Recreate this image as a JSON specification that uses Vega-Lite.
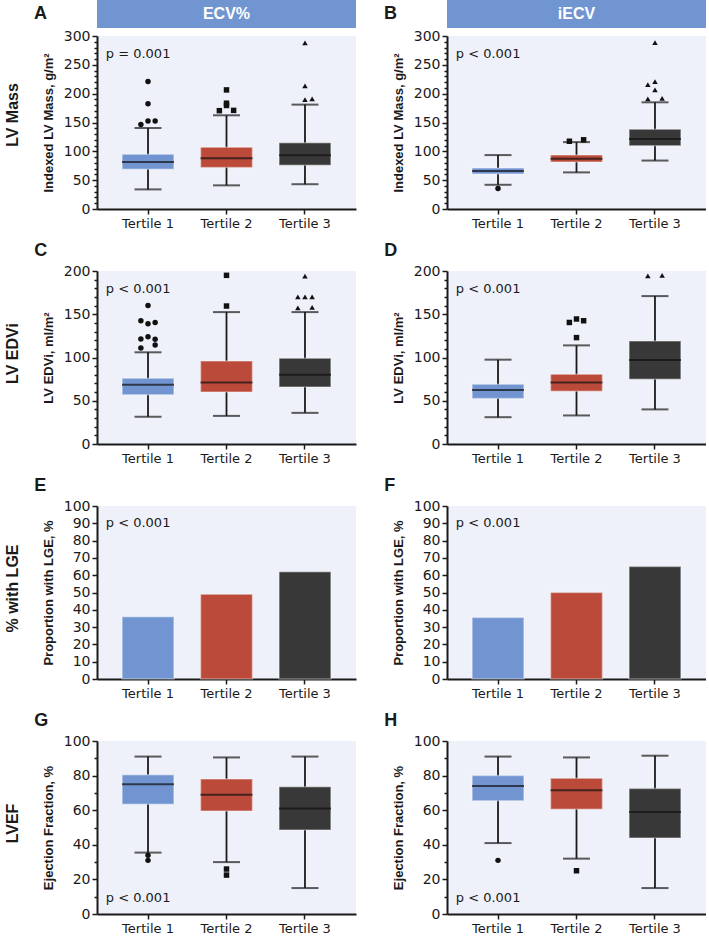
{
"$schema": "https://vega.github.io/schema/vega-lite/v6.json",
"padding": {"left": 5, "top": 0, "right": 0, "bottom": 0},
"background": "white",
"config": {
  "view": {"fill": "#eef1f9", "stroke": null},
  "legend": {"disable": true},
  "axis": {"domainColor": "#1a1a1a", "domainWidth": 2, "tickColor": "#1a1a1a", "tickWidth": 1.5, "labelFont": "DejaVu Sans", "labelFontSize": 13, "labelColor": "#1a1a1a", "titleFont": "Liberation Sans", "titleFontSize": 13, "titleFontWeight": "bold", "titleColor": "#1a1a1a", "grid": false},
  "axisX": {"tickSize": 5, "labelPadding": 3, "labelAngle": 0},
  "axisY": {"labelPadding": 2, "titlePadding": 8, "labelFontSize": 14, "labelOverlap": false, "tickCount": 100},
  "title": {"anchor": "start", "fontSize": 18, "fontWeight": "bold", "font": "Liberation Sans", "color": "#1a1a1a", "offset": 0, "baseline": "bottom", "dx": -8},
  "text": {"font": "DejaVu Sans", "fontSize": 13, "color": "#1a1a1a"}
},
"datasets": {
  "boxes": [
    {"p":"A","t":"Tertile 1","lo":34,"q1":69,"med":81.5,"q3":95,"hi":140.5},
    {"p":"A","t":"Tertile 2","lo":41,"q1":72,"med":88,"q3":107,"hi":162.5},
    {"p":"A","t":"Tertile 3","lo":43,"q1":76,"med":93,"q3":115,"hi":181},
    {"p":"B","t":"Tertile 1","lo":42,"q1":60.5,"med":66,"q3":71,"hi":93.5},
    {"p":"B","t":"Tertile 2","lo":63.5,"q1":81.5,"med":87,"q3":93.5,"hi":116},
    {"p":"B","t":"Tertile 3","lo":84,"q1":109.5,"med":121.5,"q3":138.5,"hi":185},
    {"p":"C","t":"Tertile 1","lo":31.5,"q1":57,"med":68.5,"q3":76,"hi":106},
    {"p":"C","t":"Tertile 2","lo":32.5,"q1":60,"med":71,"q3":96,"hi":152.5},
    {"p":"C","t":"Tertile 3","lo":36,"q1":66,"med":80,"q3":99,"hi":152.5},
    {"p":"D","t":"Tertile 1","lo":31,"q1":52.5,"med":62.5,"q3":69,"hi":97.5},
    {"p":"D","t":"Tertile 2","lo":33,"q1":61,"med":71,"q3":80.5,"hi":114},
    {"p":"D","t":"Tertile 3","lo":40,"q1":75,"med":97,"q3":119,"hi":171},
    {"p":"G","t":"Tertile 1","lo":35.5,"q1":63.5,"med":75,"q3":80.5,"hi":91},
    {"p":"G","t":"Tertile 2","lo":30,"q1":59.5,"med":69,"q3":78,"hi":90.5},
    {"p":"G","t":"Tertile 3","lo":15,"q1":48.5,"med":61,"q3":73.5,"hi":91},
    {"p":"H","t":"Tertile 1","lo":41,"q1":65.5,"med":74,"q3":80,"hi":91},
    {"p":"H","t":"Tertile 2","lo":32,"q1":60.5,"med":71.5,"q3":78.5,"hi":90.5},
    {"p":"H","t":"Tertile 3","lo":15,"q1":44,"med":59,"q3":72.5,"hi":91.5}
  ],
  "outliers": [
    {"p":"A","t":"Tertile 1","v":221,"s":0},{"p":"A","t":"Tertile 1","v":182.5,"s":0},{"p":"A","t":"Tertile 1","v":152.5,"s":0},{"p":"A","t":"Tertile 1","v":152.5,"s":1},{"p":"A","t":"Tertile 1","v":146.5,"s":-1},
    {"p":"A","t":"Tertile 2","v":206.5,"s":0},{"p":"A","t":"Tertile 2","v":183.5,"s":0},{"p":"A","t":"Tertile 2","v":179.5,"s":0},{"p":"A","t":"Tertile 2","v":170.5,"s":-1},{"p":"A","t":"Tertile 2","v":171,"s":1},
    {"p":"A","t":"Tertile 3","v":288,"s":0},{"p":"A","t":"Tertile 3","v":213.5,"s":0},{"p":"A","t":"Tertile 3","v":189.5,"s":0},{"p":"A","t":"Tertile 3","v":191,"s":1},
    {"p":"B","t":"Tertile 1","v":35.5,"s":0},
    {"p":"B","t":"Tertile 2","v":117.5,"s":-1},{"p":"B","t":"Tertile 2","v":120,"s":1},
    {"p":"B","t":"Tertile 3","v":288.5,"s":0},{"p":"B","t":"Tertile 3","v":221,"s":0},{"p":"B","t":"Tertile 3","v":215.5,"s":-1},{"p":"B","t":"Tertile 3","v":206.5,"s":0},{"p":"B","t":"Tertile 3","v":191,"s":-1},{"p":"B","t":"Tertile 3","v":192,"s":1},
    {"p":"C","t":"Tertile 1","v":160,"s":0},{"p":"C","t":"Tertile 1","v":142.5,"s":-1},{"p":"C","t":"Tertile 1","v":139,"s":0},{"p":"C","t":"Tertile 1","v":140.5,"s":1},{"p":"C","t":"Tertile 1","v":121.5,"s":-1},{"p":"C","t":"Tertile 1","v":124,"s":0},{"p":"C","t":"Tertile 1","v":121,"s":1},{"p":"C","t":"Tertile 1","v":111,"s":-1},{"p":"C","t":"Tertile 1","v":114.5,"s":1},
    {"p":"C","t":"Tertile 2","v":195,"s":0},{"p":"C","t":"Tertile 2","v":159.5,"s":0},
    {"p":"C","t":"Tertile 3","v":194,"s":0},{"p":"C","t":"Tertile 3","v":170,"s":-1},{"p":"C","t":"Tertile 3","v":170,"s":0},{"p":"C","t":"Tertile 3","v":170,"s":1},{"p":"C","t":"Tertile 3","v":157.5,"s":-1},{"p":"C","t":"Tertile 3","v":158,"s":1},
    {"p":"D","t":"Tertile 2","v":144.5,"s":0},{"p":"D","t":"Tertile 2","v":142.5,"s":1},{"p":"D","t":"Tertile 2","v":140.5,"s":-1},{"p":"D","t":"Tertile 2","v":123,"s":0},
    {"p":"D","t":"Tertile 3","v":194.5,"s":-1},{"p":"D","t":"Tertile 3","v":195,"s":1},
    {"p":"G","t":"Tertile 1","v":34,"s":0},{"p":"G","t":"Tertile 1","v":31,"s":0},
    {"p":"G","t":"Tertile 2","v":26,"s":0},{"p":"G","t":"Tertile 2","v":22.5,"s":0},
    {"p":"H","t":"Tertile 1","v":31,"s":0},
    {"p":"H","t":"Tertile 2","v":25,"s":0}
  ],
  "lge": [
    {"p":"E","t":"Tertile 1","pct":36},{"p":"E","t":"Tertile 2","pct":49},{"p":"E","t":"Tertile 3","pct":62},
    {"p":"F","t":"Tertile 1","pct":35.5},{"p":"F","t":"Tertile 2","pct":50},{"p":"F","t":"Tertile 3","pct":65}
  ]
},
"vconcat": [
  {"hconcat": [
    {"vconcat": [
      {"width": 259, "height": 28, "title": {"text": "A", "orient": "left", "angle": 0, "anchor": "middle", "baseline": "middle", "align": "right", "offset": 37, "dx": 0},
       "data": {"values": [{"h": "ECV%"}]},
       "layer": [
        {"mark": {"type": "rect", "color": "#7195d1"}, "encoding": {"x": {"datum": 0, "type": "quantitative", "scale": {"domain": [0, 1]}, "axis": null}, "x2": {"datum": 1}, "y": {"datum": 0, "type": "quantitative", "scale": {"domain": [0, 1]}, "axis": null}, "y2": {"datum": 1}}},
        {"mark": {"type": "text", "color": "white", "fontSize": 16, "fontWeight": "bold", "font": "Liberation Sans", "align": "center", "baseline": "middle"}, "encoding": {"x": {"datum": 0.5, "type": "quantitative"}, "y": {"datum": 0.5, "type": "quantitative"}, "text": {"field": "h"}}}
       ]},
      {"width": 259, "height": 173,
       "encoding": {"x": {"field": "t", "type": "nominal", "title": null, "scale": {"domain": ["Tertile 1","Tertile 2","Tertile 3"], "paddingInner": 0, "paddingOuter": 0.15}}},
       "resolve": {"scale": {"xOffset": "independent"}},
       "layer": [
        {"data": {"name": "boxes"}, "transform": [{"filter": "datum.p === 'A'"}], "layer": [
          {"mark": {"type": "rule", "color": "#1a1a1a", "strokeWidth": 1.8}, "encoding": {"y": {"field": "lo", "type": "quantitative", "scale": {"domain": [0, 300], "nice": false}, "axis": {"title": "Indexed LV Mass, g/m²", "labelOverlap": false, "tickCount": 100, "values": [0,10,20,30,40,50,60,70,80,90,100,110,120,130,140,150,160,170,180,190,200,210,220,230,240,250,260,270,280,290,300], "labelExpr": "datum.value % 50 === 0 ? datum.label : ''", "tickSize": {"condition": {"test": "datum.value % 50 === 0", "value": 5}, "value": 3}}}, "y2": {"field": "hi"}}},
          {"mark": {"type": "tick", "color": "#1a1a1a", "size": 27, "thickness": 2}, "encoding": {"y": {"field": "lo", "type": "quantitative"}}},
          {"mark": {"type": "tick", "color": "#1a1a1a", "size": 27, "thickness": 2}, "encoding": {"y": {"field": "hi", "type": "quantitative"}}},
          {"mark": {"type": "bar", "width": {"band": 0.66}, "stroke": "white", "strokeOpacity": 0.35, "strokeWidth": 1.5}, "encoding": {"y": {"field": "q1", "type": "quantitative"}, "y2": {"field": "q3"}, "color": {"field": "t", "type": "nominal", "scale": {"domain": ["Tertile 1","Tertile 2","Tertile 3"], "range": ["#7295d2","#bc4a3b","#383838"]}}}},
          {"mark": {"type": "tick", "color": "#111111", "size": 52, "thickness": 2}, "encoding": {"y": {"field": "med", "type": "quantitative"}}}
        ]},
        {"data": {"name": "outliers"}, "transform": [{"filter": "datum.p === 'A'"}], "mark": {"type": "point", "filled": true, "color": "#111111", "size": 30, "opacity": 1}, "encoding": {"y": {"field": "v", "type": "quantitative"}, "xOffset": {"field": "s", "type": "quantitative", "scale": {"domain": [-5.5, 5.5]}}, "shape": {"field": "t", "type": "nominal", "scale": {"domain": ["Tertile 1","Tertile 2","Tertile 3"], "range": ["circle","square","triangle-up"]}}}},
        {"data": {"values": [{}]}, "mark": {"type": "text", "text": "p = 0.001", "align": "left", "baseline": "middle", "dx": -3}, "encoding": {"x": {"datum": "Tertile 1", "type": "nominal", "bandPosition": 0}, "y": {"datum": 269, "type": "quantitative"}}}
       ]}
    ], "spacing": 1},
    {"vconcat": [
      {"width": 259, "height": 28, "title": {"text": "B", "orient": "left", "angle": 0, "anchor": "middle", "baseline": "middle", "align": "right", "offset": 37, "dx": 0},
       "data": {"values": [{"h": "iECV"}]},
       "layer": [
        {"mark": {"type": "rect", "color": "#7195d1"}, "encoding": {"x": {"datum": 0, "type": "quantitative", "scale": {"domain": [0, 1]}, "axis": null}, "x2": {"datum": 1}, "y": {"datum": 0, "type": "quantitative", "scale": {"domain": [0, 1]}, "axis": null}, "y2": {"datum": 1}}},
        {"mark": {"type": "text", "color": "white", "fontSize": 16, "fontWeight": "bold", "font": "Liberation Sans", "align": "center", "baseline": "middle"}, "encoding": {"x": {"datum": 0.5, "type": "quantitative"}, "y": {"datum": 0.5, "type": "quantitative"}, "text": {"field": "h"}}}
       ]},
      {"width": 259, "height": 173,
       "encoding": {"x": {"field": "t", "type": "nominal", "title": null, "scale": {"domain": ["Tertile 1","Tertile 2","Tertile 3"], "paddingInner": 0, "paddingOuter": 0.15}}},
       "resolve": {"scale": {"xOffset": "independent"}},
       "layer": [
        {"data": {"name": "boxes"}, "transform": [{"filter": "datum.p === 'B'"}], "layer": [
          {"mark": {"type": "rule", "color": "#1a1a1a", "strokeWidth": 1.8}, "encoding": {"y": {"field": "lo", "type": "quantitative", "scale": {"domain": [0, 300], "nice": false}, "axis": {"title": "Indexed LV Mass, g/m²", "labelOverlap": false, "tickCount": 100, "values": [0,10,20,30,40,50,60,70,80,90,100,110,120,130,140,150,160,170,180,190,200,210,220,230,240,250,260,270,280,290,300], "labelExpr": "datum.value % 50 === 0 ? datum.label : ''", "tickSize": {"condition": {"test": "datum.value % 50 === 0", "value": 5}, "value": 3}}}, "y2": {"field": "hi"}}},
          {"mark": {"type": "tick", "color": "#1a1a1a", "size": 27, "thickness": 2}, "encoding": {"y": {"field": "lo", "type": "quantitative"}}},
          {"mark": {"type": "tick", "color": "#1a1a1a", "size": 27, "thickness": 2}, "encoding": {"y": {"field": "hi", "type": "quantitative"}}},
          {"mark": {"type": "bar", "width": {"band": 0.66}, "stroke": "white", "strokeOpacity": 0.35, "strokeWidth": 1.5}, "encoding": {"y": {"field": "q1", "type": "quantitative"}, "y2": {"field": "q3"}, "color": {"field": "t", "type": "nominal", "scale": {"domain": ["Tertile 1","Tertile 2","Tertile 3"], "range": ["#7295d2","#bc4a3b","#383838"]}}}},
          {"mark": {"type": "tick", "color": "#111111", "size": 52, "thickness": 2}, "encoding": {"y": {"field": "med", "type": "quantitative"}}}
        ]},
        {"data": {"name": "outliers"}, "transform": [{"filter": "datum.p === 'B'"}], "mark": {"type": "point", "filled": true, "color": "#111111", "size": 30, "opacity": 1}, "encoding": {"y": {"field": "v", "type": "quantitative"}, "xOffset": {"field": "s", "type": "quantitative", "scale": {"domain": [-5.5, 5.5]}}, "shape": {"field": "t", "type": "nominal", "scale": {"domain": ["Tertile 1","Tertile 2","Tertile 3"], "range": ["circle","square","triangle-up"]}}}},
        {"data": {"values": [{}]}, "mark": {"type": "text", "text": "p < 0.001", "align": "left", "baseline": "middle", "dx": -3}, "encoding": {"x": {"datum": "Tertile 1", "type": "nominal", "bandPosition": 0}, "y": {"datum": 269, "type": "quantitative"}}}
       ]}
    ], "spacing": 1}
  ], "spacing": 28, "title": {"text": "LV Mass", "orient": "left", "anchor": "middle", "fontSize": 16, "offset": 13, "dx": 0}},
  {"hconcat": [
      {"width": 259, "height": 173, "title": {"text": "C"},
       "encoding": {"x": {"field": "t", "type": "nominal", "title": null, "scale": {"domain": ["Tertile 1","Tertile 2","Tertile 3"], "paddingInner": 0, "paddingOuter": 0.15}}},
       "resolve": {"scale": {"xOffset": "independent"}},
       "layer": [
        {"data": {"name": "boxes"}, "transform": [{"filter": "datum.p === 'C'"}], "layer": [
          {"mark": {"type": "rule", "color": "#1a1a1a", "strokeWidth": 1.8}, "encoding": {"y": {"field": "lo", "type": "quantitative", "scale": {"domain": [0, 200], "nice": false}, "axis": {"title": "LV EDVi, ml/m²", "labelOverlap": false, "tickCount": 100, "values": [0,10,20,30,40,50,60,70,80,90,100,110,120,130,140,150,160,170,180,190,200], "labelExpr": "datum.value % 50 === 0 ? datum.label : ''", "tickSize": {"condition": {"test": "datum.value % 50 === 0", "value": 5}, "value": 3}}}, "y2": {"field": "hi"}}},
          {"mark": {"type": "tick", "color": "#1a1a1a", "size": 27, "thickness": 2}, "encoding": {"y": {"field": "lo", "type": "quantitative"}}},
          {"mark": {"type": "tick", "color": "#1a1a1a", "size": 27, "thickness": 2}, "encoding": {"y": {"field": "hi", "type": "quantitative"}}},
          {"mark": {"type": "bar", "width": {"band": 0.66}, "stroke": "white", "strokeOpacity": 0.35, "strokeWidth": 1.5}, "encoding": {"y": {"field": "q1", "type": "quantitative"}, "y2": {"field": "q3"}, "color": {"field": "t", "type": "nominal", "scale": {"domain": ["Tertile 1","Tertile 2","Tertile 3"], "range": ["#7295d2","#bc4a3b","#383838"]}}}},
          {"mark": {"type": "tick", "color": "#111111", "size": 52, "thickness": 2}, "encoding": {"y": {"field": "med", "type": "quantitative"}}}
        ]},
        {"data": {"name": "outliers"}, "transform": [{"filter": "datum.p === 'C'"}], "mark": {"type": "point", "filled": true, "color": "#111111", "size": 30, "opacity": 1}, "encoding": {"y": {"field": "v", "type": "quantitative"}, "xOffset": {"field": "s", "type": "quantitative", "scale": {"domain": [-5.5, 5.5]}}, "shape": {"field": "t", "type": "nominal", "scale": {"domain": ["Tertile 1","Tertile 2","Tertile 3"], "range": ["circle","square","triangle-up"]}}}},
        {"data": {"values": [{}]}, "mark": {"type": "text", "text": "p < 0.001", "align": "left", "baseline": "middle", "dx": -3}, "encoding": {"x": {"datum": "Tertile 1", "type": "nominal", "bandPosition": 0}, "y": {"datum": 179, "type": "quantitative"}}}
       ]},
      {"width": 259, "height": 173, "title": {"text": "D"},
       "encoding": {"x": {"field": "t", "type": "nominal", "title": null, "scale": {"domain": ["Tertile 1","Tertile 2","Tertile 3"], "paddingInner": 0, "paddingOuter": 0.15}}},
       "resolve": {"scale": {"xOffset": "independent"}},
       "layer": [
        {"data": {"name": "boxes"}, "transform": [{"filter": "datum.p === 'D'"}], "layer": [
          {"mark": {"type": "rule", "color": "#1a1a1a", "strokeWidth": 1.8}, "encoding": {"y": {"field": "lo", "type": "quantitative", "scale": {"domain": [0, 200], "nice": false}, "axis": {"title": "LV EDVi, ml/m²", "labelOverlap": false, "tickCount": 100, "values": [0,10,20,30,40,50,60,70,80,90,100,110,120,130,140,150,160,170,180,190,200], "labelExpr": "datum.value % 50 === 0 ? datum.label : ''", "tickSize": {"condition": {"test": "datum.value % 50 === 0", "value": 5}, "value": 3}}}, "y2": {"field": "hi"}}},
          {"mark": {"type": "tick", "color": "#1a1a1a", "size": 27, "thickness": 2}, "encoding": {"y": {"field": "lo", "type": "quantitative"}}},
          {"mark": {"type": "tick", "color": "#1a1a1a", "size": 27, "thickness": 2}, "encoding": {"y": {"field": "hi", "type": "quantitative"}}},
          {"mark": {"type": "bar", "width": {"band": 0.66}, "stroke": "white", "strokeOpacity": 0.35, "strokeWidth": 1.5}, "encoding": {"y": {"field": "q1", "type": "quantitative"}, "y2": {"field": "q3"}, "color": {"field": "t", "type": "nominal", "scale": {"domain": ["Tertile 1","Tertile 2","Tertile 3"], "range": ["#7295d2","#bc4a3b","#383838"]}}}},
          {"mark": {"type": "tick", "color": "#111111", "size": 52, "thickness": 2}, "encoding": {"y": {"field": "med", "type": "quantitative"}}}
        ]},
        {"data": {"name": "outliers"}, "transform": [{"filter": "datum.p === 'D'"}], "mark": {"type": "point", "filled": true, "color": "#111111", "size": 30, "opacity": 1}, "encoding": {"y": {"field": "v", "type": "quantitative"}, "xOffset": {"field": "s", "type": "quantitative", "scale": {"domain": [-5.5, 5.5]}}, "shape": {"field": "t", "type": "nominal", "scale": {"domain": ["Tertile 1","Tertile 2","Tertile 3"], "range": ["circle","square","triangle-up"]}}}},
        {"data": {"values": [{}]}, "mark": {"type": "text", "text": "p < 0.001", "align": "left", "baseline": "middle", "dx": -3}, "encoding": {"x": {"datum": "Tertile 1", "type": "nominal", "bandPosition": 0}, "y": {"datum": 179, "type": "quantitative"}}}
       ]}
  ], "spacing": 28, "title": {"text": "LV EDVi", "orient": "left", "anchor": "middle", "fontSize": 16, "offset": 13, "dx": 0}},
  {"hconcat": [
      {"width": 259, "height": 173, "title": {"text": "E"}, "data": {"name": "lge"},
       "encoding": {"x": {"field": "t", "type": "nominal", "title": null, "scale": {"domain": ["Tertile 1","Tertile 2","Tertile 3"], "paddingInner": 0, "paddingOuter": 0.15}}},
       "layer": [
        {"transform": [{"filter": "datum.p === 'E'"}], "mark": {"type": "bar", "width": {"band": 0.66}, "stroke": "white", "strokeOpacity": 0.35, "strokeWidth": 1.5}, "encoding": {"y": {"field": "pct", "type": "quantitative", "scale": {"domain": [0, 100], "nice": false}, "axis": {"title": "Proportion with LGE, %", "labelOverlap": false, "tickCount": 100, "values": [0,10,20,30,40,50,60,70,80,90,100], "tickSize": 5}}, "color": {"field": "t", "type": "nominal", "scale": {"domain": ["Tertile 1","Tertile 2","Tertile 3"], "range": ["#7295d2","#bc4a3b","#383838"]}}}},
        {"data": {"values": [{}]}, "mark": {"type": "text", "text": "p < 0.001", "align": "left", "baseline": "middle", "dx": -3}, "encoding": {"x": {"datum": "Tertile 1", "type": "nominal", "bandPosition": 0}, "y": {"datum": 90, "type": "quantitative"}}}
       ]},
      {"width": 259, "height": 173, "title": {"text": "F"}, "data": {"name": "lge"},
       "encoding": {"x": {"field": "t", "type": "nominal", "title": null, "scale": {"domain": ["Tertile 1","Tertile 2","Tertile 3"], "paddingInner": 0, "paddingOuter": 0.15}}},
       "layer": [
        {"transform": [{"filter": "datum.p === 'F'"}], "mark": {"type": "bar", "width": {"band": 0.66}, "stroke": "white", "strokeOpacity": 0.35, "strokeWidth": 1.5}, "encoding": {"y": {"field": "pct", "type": "quantitative", "scale": {"domain": [0, 100], "nice": false}, "axis": {"title": "Proportion with LGE, %", "labelOverlap": false, "tickCount": 100, "values": [0,10,20,30,40,50,60,70,80,90,100], "tickSize": 5}}, "color": {"field": "t", "type": "nominal", "scale": {"domain": ["Tertile 1","Tertile 2","Tertile 3"], "range": ["#7295d2","#bc4a3b","#383838"]}}}},
        {"data": {"values": [{}]}, "mark": {"type": "text", "text": "p < 0.001", "align": "left", "baseline": "middle", "dx": -3}, "encoding": {"x": {"datum": "Tertile 1", "type": "nominal", "bandPosition": 0}, "y": {"datum": 90, "type": "quantitative"}}}
       ]}
  ], "spacing": 28, "title": {"text": "% with LGE", "orient": "left", "anchor": "middle", "fontSize": 16, "offset": 13, "dx": 0}},
  {"hconcat": [
      {"width": 259, "height": 173, "title": {"text": "G"},
       "encoding": {"x": {"field": "t", "type": "nominal", "title": null, "scale": {"domain": ["Tertile 1","Tertile 2","Tertile 3"], "paddingInner": 0, "paddingOuter": 0.15}}},
       "resolve": {"scale": {"xOffset": "independent"}},
       "layer": [
        {"data": {"name": "boxes"}, "transform": [{"filter": "datum.p === 'G'"}], "layer": [
          {"mark": {"type": "rule", "color": "#1a1a1a", "strokeWidth": 1.8}, "encoding": {"y": {"field": "lo", "type": "quantitative", "scale": {"domain": [0, 100], "nice": false}, "axis": {"title": "Ejection Fraction, %", "labelOverlap": false, "tickCount": 100, "values": [0,10,20,30,40,50,60,70,80,90,100], "labelExpr": "datum.value % 20 === 0 ? datum.label : ''", "tickSize": {"condition": {"test": "datum.value % 20 === 0", "value": 5}, "value": 3}}}, "y2": {"field": "hi"}}},
          {"mark": {"type": "tick", "color": "#1a1a1a", "size": 27, "thickness": 2}, "encoding": {"y": {"field": "lo", "type": "quantitative"}}},
          {"mark": {"type": "tick", "color": "#1a1a1a", "size": 27, "thickness": 2}, "encoding": {"y": {"field": "hi", "type": "quantitative"}}},
          {"mark": {"type": "bar", "width": {"band": 0.66}, "stroke": "white", "strokeOpacity": 0.35, "strokeWidth": 1.5}, "encoding": {"y": {"field": "q1", "type": "quantitative"}, "y2": {"field": "q3"}, "color": {"field": "t", "type": "nominal", "scale": {"domain": ["Tertile 1","Tertile 2","Tertile 3"], "range": ["#7295d2","#bc4a3b","#383838"]}}}},
          {"mark": {"type": "tick", "color": "#111111", "size": 52, "thickness": 2}, "encoding": {"y": {"field": "med", "type": "quantitative"}}}
        ]},
        {"data": {"name": "outliers"}, "transform": [{"filter": "datum.p === 'G'"}], "mark": {"type": "point", "filled": true, "color": "#111111", "size": 30, "opacity": 1}, "encoding": {"y": {"field": "v", "type": "quantitative"}, "xOffset": {"field": "s", "type": "quantitative", "scale": {"domain": [-5.5, 5.5]}}, "shape": {"field": "t", "type": "nominal", "scale": {"domain": ["Tertile 1","Tertile 2","Tertile 3"], "range": ["circle","square","triangle-up"]}}}},
        {"data": {"values": [{}]}, "mark": {"type": "text", "text": "p < 0.001", "align": "left", "baseline": "middle", "dx": -3}, "encoding": {"x": {"datum": "Tertile 1", "type": "nominal", "bandPosition": 0}, "y": {"datum": 9.5, "type": "quantitative"}}}
       ]},
      {"width": 259, "height": 173, "title": {"text": "H"},
       "encoding": {"x": {"field": "t", "type": "nominal", "title": null, "scale": {"domain": ["Tertile 1","Tertile 2","Tertile 3"], "paddingInner": 0, "paddingOuter": 0.15}}},
       "resolve": {"scale": {"xOffset": "independent"}},
       "layer": [
        {"data": {"name": "boxes"}, "transform": [{"filter": "datum.p === 'H'"}], "layer": [
          {"mark": {"type": "rule", "color": "#1a1a1a", "strokeWidth": 1.8}, "encoding": {"y": {"field": "lo", "type": "quantitative", "scale": {"domain": [0, 100], "nice": false}, "axis": {"title": "Ejection Fraction, %", "labelOverlap": false, "tickCount": 100, "values": [0,10,20,30,40,50,60,70,80,90,100], "labelExpr": "datum.value % 20 === 0 ? datum.label : ''", "tickSize": {"condition": {"test": "datum.value % 20 === 0", "value": 5}, "value": 3}}}, "y2": {"field": "hi"}}},
          {"mark": {"type": "tick", "color": "#1a1a1a", "size": 27, "thickness": 2}, "encoding": {"y": {"field": "lo", "type": "quantitative"}}},
          {"mark": {"type": "tick", "color": "#1a1a1a", "size": 27, "thickness": 2}, "encoding": {"y": {"field": "hi", "type": "quantitative"}}},
          {"mark": {"type": "bar", "width": {"band": 0.66}, "stroke": "white", "strokeOpacity": 0.35, "strokeWidth": 1.5}, "encoding": {"y": {"field": "q1", "type": "quantitative"}, "y2": {"field": "q3"}, "color": {"field": "t", "type": "nominal", "scale": {"domain": ["Tertile 1","Tertile 2","Tertile 3"], "range": ["#7295d2","#bc4a3b","#383838"]}}}},
          {"mark": {"type": "tick", "color": "#111111", "size": 52, "thickness": 2}, "encoding": {"y": {"field": "med", "type": "quantitative"}}}
        ]},
        {"data": {"name": "outliers"}, "transform": [{"filter": "datum.p === 'H'"}], "mark": {"type": "point", "filled": true, "color": "#111111", "size": 30, "opacity": 1}, "encoding": {"y": {"field": "v", "type": "quantitative"}, "xOffset": {"field": "s", "type": "quantitative", "scale": {"domain": [-5.5, 5.5]}}, "shape": {"field": "t", "type": "nominal", "scale": {"domain": ["Tertile 1","Tertile 2","Tertile 3"], "range": ["circle","square","triangle-up"]}}}},
        {"data": {"values": [{}]}, "mark": {"type": "text", "text": "p < 0.001", "align": "left", "baseline": "middle", "dx": -3}, "encoding": {"x": {"datum": "Tertile 1", "type": "nominal", "bandPosition": 0}, "y": {"datum": 9.5, "type": "quantitative"}}}
       ]}
  ], "spacing": 28, "title": {"text": "LVEF", "orient": "left", "anchor": "middle", "fontSize": 16, "offset": 13, "dx": 0}}
],
"spacing": 12
}
